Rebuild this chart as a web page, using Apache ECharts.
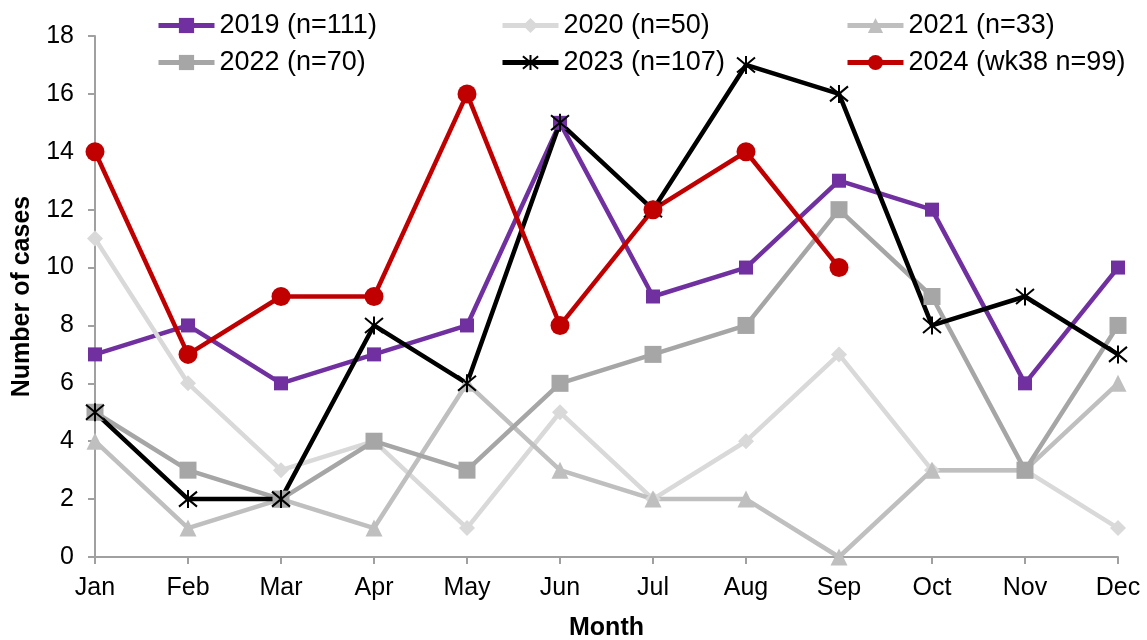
<!DOCTYPE html>
<html>
<head>
<meta charset="utf-8">
<script src="https://cdn.jsdelivr.net/npm/echarts@6/dist/echarts.min.js"></script>
<style>
html, body { margin: 0; padding: 0; background: #fff; }
#chart { width: 1147px; height: 640px; }
</style>
</head>
<body>
<div id="chart"></div>
<script>
var months = ['Jan', 'Feb', 'Mar', 'Apr', 'May', 'Jun', 'Jul', 'Aug', 'Sep', 'Oct', 'Nov', 'Dec'];
var y2019 = [7, 8, 6, 7, 8, 15, 9, 10, 13, 12, 6, 10];
var y2020 = [11, 6, 3, 4, 1, 5, 2, 4, 7, 3, 3, 1];
var y2021 = [4, 1, 2, 1, 6, 3, 2, 2, 0, 3, 3, 6];
var y2022 = [5, 3, 2, 4, 3, 6, 7, 8, 12, 9, 3, 8];
var y2023 = [5, 2, 2, 8, 6, 15, 12, 17, 16, 8, 9, 7];
var y2024 = [14, 7, 9, 9, 16, 8, 12, 14, 10];
var names = ['2019 (n=111)', '2020 (n=50)', '2021 (n=33)', '2022 (n=70)', '2023 (n=107)', '2024 (wk38 n=99)'];

// asterisk marker for 2023
var star = 'path://M0,0L10,10M10,0L0,10M5,-1L5,11';
var font = 'Liberation Sans, Arial, sans-serif';

function mkSeries(name, data, color, symbol, size, extra) {
	var s = {
		name: name,
		type: 'line',
		data: data,
		symbol: symbol,
		symbolSize: size,
		showAllSymbol: true,
		lineStyle: { color: color, width: 4.5 },
		itemStyle: { color: color },
		emphasis: { disabled: true }
	};
	if (extra) {
		for (var k in extra) s[k] = extra[k];
	}
	return s;
}

function mkLegend(left, data) {
	return {
		orient: 'vertical',
		left: left,
		top: 7,
		itemWidth: 56,
		itemHeight: 19,
		itemGap: 10,
		lineStyle: { width: 5 },
		textStyle: { fontSize: 27, color: '#000', fontFamily: font },
		data: data
	};
}

var option = {
	animation: false,
	legend: [
		mkLegend(151, [names[0], names[3]]),
		mkLegend(495, [names[1], names[4]]),
		mkLegend(840, [names[2], names[5]])
	],
	grid: { left: 95, right: 29, top: 36, bottom: 83, containLabel: false, outerBoundsMode: 'none' },
	xAxis: {
		type: 'category',
		data: months,
		boundaryGap: false,
		name: 'Month',
		nameLocation: 'middle',
		nameGap: 59,
		nameTextStyle: { fontSize: 25, fontWeight: 'bold', color: '#000', fontFamily: font },
		axisLine: { lineStyle: { color: '#a0a0a0', width: 2 } },
		axisTick: { show: true, alignWithLabel: true, length: 7, lineStyle: { color: '#a0a0a0', width: 2 } },
		axisLabel: { fontSize: 25, color: '#000', margin: 19, fontFamily: font },
		splitLine: { show: false }
	},
	yAxis: {
		type: 'value',
		min: 0,
		max: 18,
		interval: 2,
		name: 'Number of cases',
		nameLocation: 'middle',
		nameGap: 60,
		nameTextStyle: { fontSize: 25, fontWeight: 'bold', color: '#000', fontFamily: font },
		axisLine: { show: true, lineStyle: { color: '#a0a0a0', width: 2 } },
		axisTick: { show: true, length: 7, lineStyle: { color: '#a0a0a0', width: 2 } },
		axisLabel: { fontSize: 25, color: '#000', margin: 21, fontFamily: font },
		splitLine: { show: false }
	},
	series: [
		mkSeries(names[0], y2019, '#7030a0', 'rect', 14),
		mkSeries(names[1], y2020, '#d9d9d9', 'diamond', 16),
		mkSeries(names[2], y2021, '#bfbfbf', 'triangle', 17),
		mkSeries(names[3], y2022, '#a6a6a6', 'rect', 17),
		mkSeries(names[4], y2023, '#000000', star, 18, {
			itemStyle: { color: 'rgba(0,0,0,0)', borderColor: '#000', borderWidth: 2 }
		}),
		mkSeries(names[5], y2024, '#c00000', 'circle', 19)
	]
};

var myChart = echarts.init(document.getElementById('chart'));
myChart.setOption(option);
</script>
</body>
</html>
